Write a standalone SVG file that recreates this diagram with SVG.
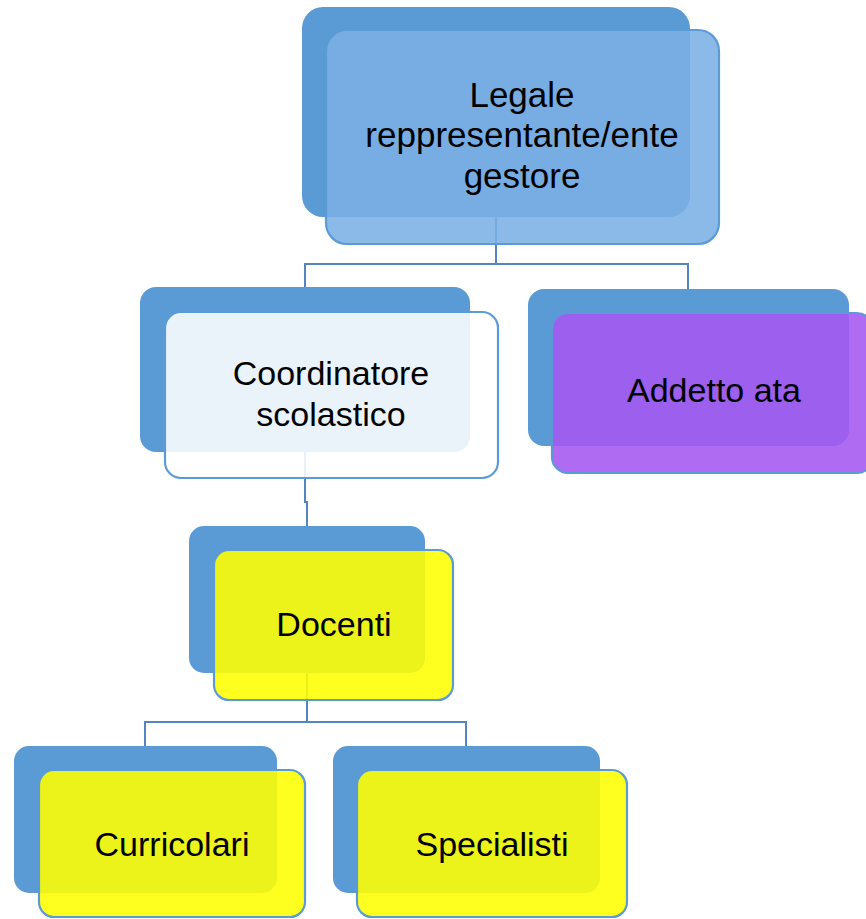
<svg xmlns="http://www.w3.org/2000/svg" width="866" height="919" viewBox="0 0 866 919">
  <style>
    .back { fill: #5b9bd5; }
    .front { stroke: #5b9bd5; stroke-width: 2.2; fill-opacity: 0.88; }
    .conn { fill: none; stroke: #5585be; stroke-width: 2; }
    .lbl { font-family: "Liberation Sans", Arial, sans-serif; font-size: 34px; fill: #000; text-anchor: middle; }
    .big { font-size: 35px; }
  </style>
  <rect width="866" height="919" fill="#ffffff"/>
  <g id="connectors">
    <path class="conn" d="M496 217 V264 M305 287 V264 H688 V289"/>
    <path class="conn" d="M305 452 V502 H307 V526"/>
    <path class="conn" d="M307 673 V722 M145 746 V722 H466 V746"/>
  </g>
  <g id="node-legale">
    <rect class="back" x="302" y="7" width="388" height="210" rx="21"/>
    <rect class="front" x="326" y="30" width="393" height="214" rx="21" fill="#7bafe5"/>
    <text class="lbl big" x="522" y="107">Legale</text>
    <text class="lbl big" x="522" y="147">reppresentante/ente</text>
    <text class="lbl big" x="522" y="188">gestore</text>
  </g>
  <g id="node-coordinatore">
    <rect class="back" x="140" y="287" width="330" height="165" rx="16"/>
    <rect class="front" x="165" y="312" width="333" height="166" rx="16" fill="#ffffff"/>
    <text class="lbl" x="331" y="385">Coordinatore</text>
    <text class="lbl" x="331" y="426">scolastico</text>
  </g>
  <g id="node-addetto">
    <rect class="back" x="528" y="289" width="321" height="157" rx="16"/>
    <rect class="front" x="552" y="313" width="321" height="160" rx="16" fill="#a557f1"/>
    <text class="lbl" x="714" y="402">Addetto ata</text>
  </g>
  <g id="node-docenti">
    <rect class="back" x="189" y="526" width="236" height="147" rx="15"/>
    <rect class="front" x="214" y="550" width="239" height="150" rx="15" fill="#ffff00"/>
    <text class="lbl" x="334" y="636">Docenti</text>
  </g>
  <g id="node-curricolari">
    <rect class="back" x="14" y="746" width="263" height="147" rx="15"/>
    <rect class="front" x="39" y="770" width="266" height="147" rx="15" fill="#ffff00"/>
    <text class="lbl" x="172" y="856">Curricolari</text>
  </g>
  <g id="node-specialisti">
    <rect class="back" x="333" y="746" width="267" height="147" rx="15"/>
    <rect class="front" x="357" y="770" width="270" height="147" rx="15" fill="#ffff00"/>
    <text class="lbl" x="492" y="856">Specialisti</text>
  </g>
</svg>
